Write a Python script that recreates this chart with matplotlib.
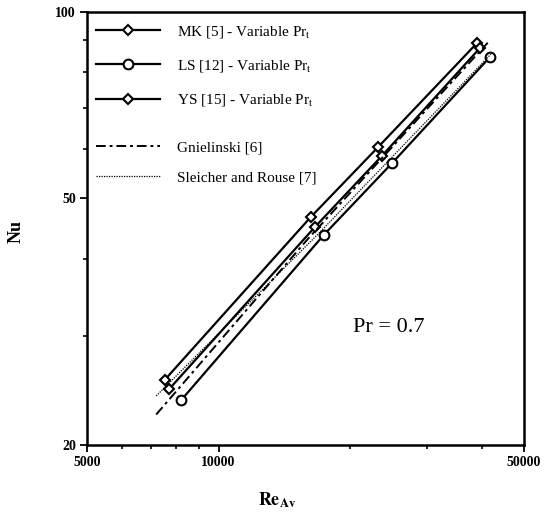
import matplotlib
matplotlib.use("Agg")
import matplotlib.pyplot as plt
from matplotlib.ticker import FixedLocator, NullFormatter

# data (Re_Av, Nu)
re_mk = [7540, 16270, 23170, 39030]
nu_mk = [25.5, 46.7, 60.5, 89.1]

re_ls = [8200, 17430, 24940, 41800]
nu_ls = [23.6, 43.7, 57.0, 84.6]

re_ys = [7700, 16630, 23660, 39660]
nu_ys = [24.6, 45.0, 58.6, 87.5]

re_gn = [7200, 16000, 41300]
nu_gn = [22.4, 43.0, 89.2]

re_sr = [7200, 17000, 42000]
nu_sr = [24.0, 44.0, 85.5]

x_major = [5000, 10000, 50000]
x_major_labels = ["5000", "10000", "50000"]
x_minor = [6000, 7000, 8000, 9000, 20000, 30000, 40000]
y_major = [20, 50, 100]
y_major_labels = ["20", "50", "100"]
y_minor = [30, 40, 60, 70, 80, 90]

plt.rcParams["font.family"] = ["Liberation Serif", "DejaVu Serif"]
plt.rcParams["mathtext.fontset"] = "stix"

fig = plt.figure(figsize=(5.49, 5.12), dpi=100)
ax = fig.add_axes([87 / 549, 1 - 445 / 512, 437 / 549, 433 / 512])
ax.set_xscale("log")
ax.set_yscale("log")
ax.set_xlim(5000, 50000)
ax.set_ylim(20, 100)

mk, = ax.plot(re_mk, nu_mk, color="black", lw=1.6, marker="D", ms=5,
              mfc="white", mec="black", mew=1.5)
ls, = ax.plot(re_ls, nu_ls, color="black", lw=1.6, marker="o", ms=7,
              mfc="white", mec="black", mew=1.5)
ys, = ax.plot(re_ys, nu_ys, color="black", lw=1.6, marker="D", ms=5,
              mfc="white", mec="black", mew=1.5)
gn, = ax.plot(re_gn, nu_gn, color="black", lw=1.4, ls=(0, (5, 2, 1.5, 2)))
sr, = ax.plot(re_sr, nu_sr, color="black", lw=0.9, ls=(0, (1, 1)))

leg1 = ax.legend([mk, ls, ys],
                 [r"MK [5] - Variable Pr$_\mathrm{t}$",
                  r"LS [12] - Variable Pr$_\mathrm{t}$",
                  r"YS [15] - Variable Pr$_\mathrm{t}$"],
                 loc="upper left", bbox_to_anchor=(0.02, 0.973),
                 frameon=False, fontsize=11, handlelength=4.2,
                 handletextpad=1.1, labelspacing=1.2, borderaxespad=0,
                 borderpad=0)
ax.add_artist(leg1)
ax.legend([gn, sr], ["Gnielinski [6]", "Sleicher and Rouse [7]"],
          loc="upper left", bbox_to_anchor=(0.02, 0.703),
          frameon=False, fontsize=11, handlelength=4.2,
          handletextpad=1.1, labelspacing=1.1, borderaxespad=0, borderpad=0)

ax.text(24500, 31, "Pr = 0.7", fontsize=16, ha="center", va="center")

ax.xaxis.set_major_locator(FixedLocator(x_major))
ax.xaxis.set_minor_locator(FixedLocator(x_minor))
ax.set_xticklabels(x_major_labels)
ax.xaxis.set_minor_formatter(NullFormatter())
ax.yaxis.set_major_locator(FixedLocator(y_major))
ax.yaxis.set_minor_locator(FixedLocator(y_minor))
ax.set_yticklabels(y_major_labels)
ax.yaxis.set_minor_formatter(NullFormatter())

ax.tick_params(which="major", direction="out", length=5, width=1.3,
               labelsize=10, pad=3)
ax.tick_params(which="minor", direction="out", length=3, width=1.2)
for lab in ax.get_xticklabels() + ax.get_yticklabels():
    lab.set_fontweight("bold")
for sp in ax.spines.values():
    sp.set_linewidth(1.8)

ax.set_xlabel(r"$\mathbf{Re}_{\mathbf{Av}}$", fontsize=13)
ax.xaxis.set_label_coords(0.435, -0.106)
ax.set_ylabel("Nu", fontsize=13, fontweight="bold")
ax.yaxis.set_label_coords(-0.142, 0.494)

fig.savefig("out.png", dpi=100)
